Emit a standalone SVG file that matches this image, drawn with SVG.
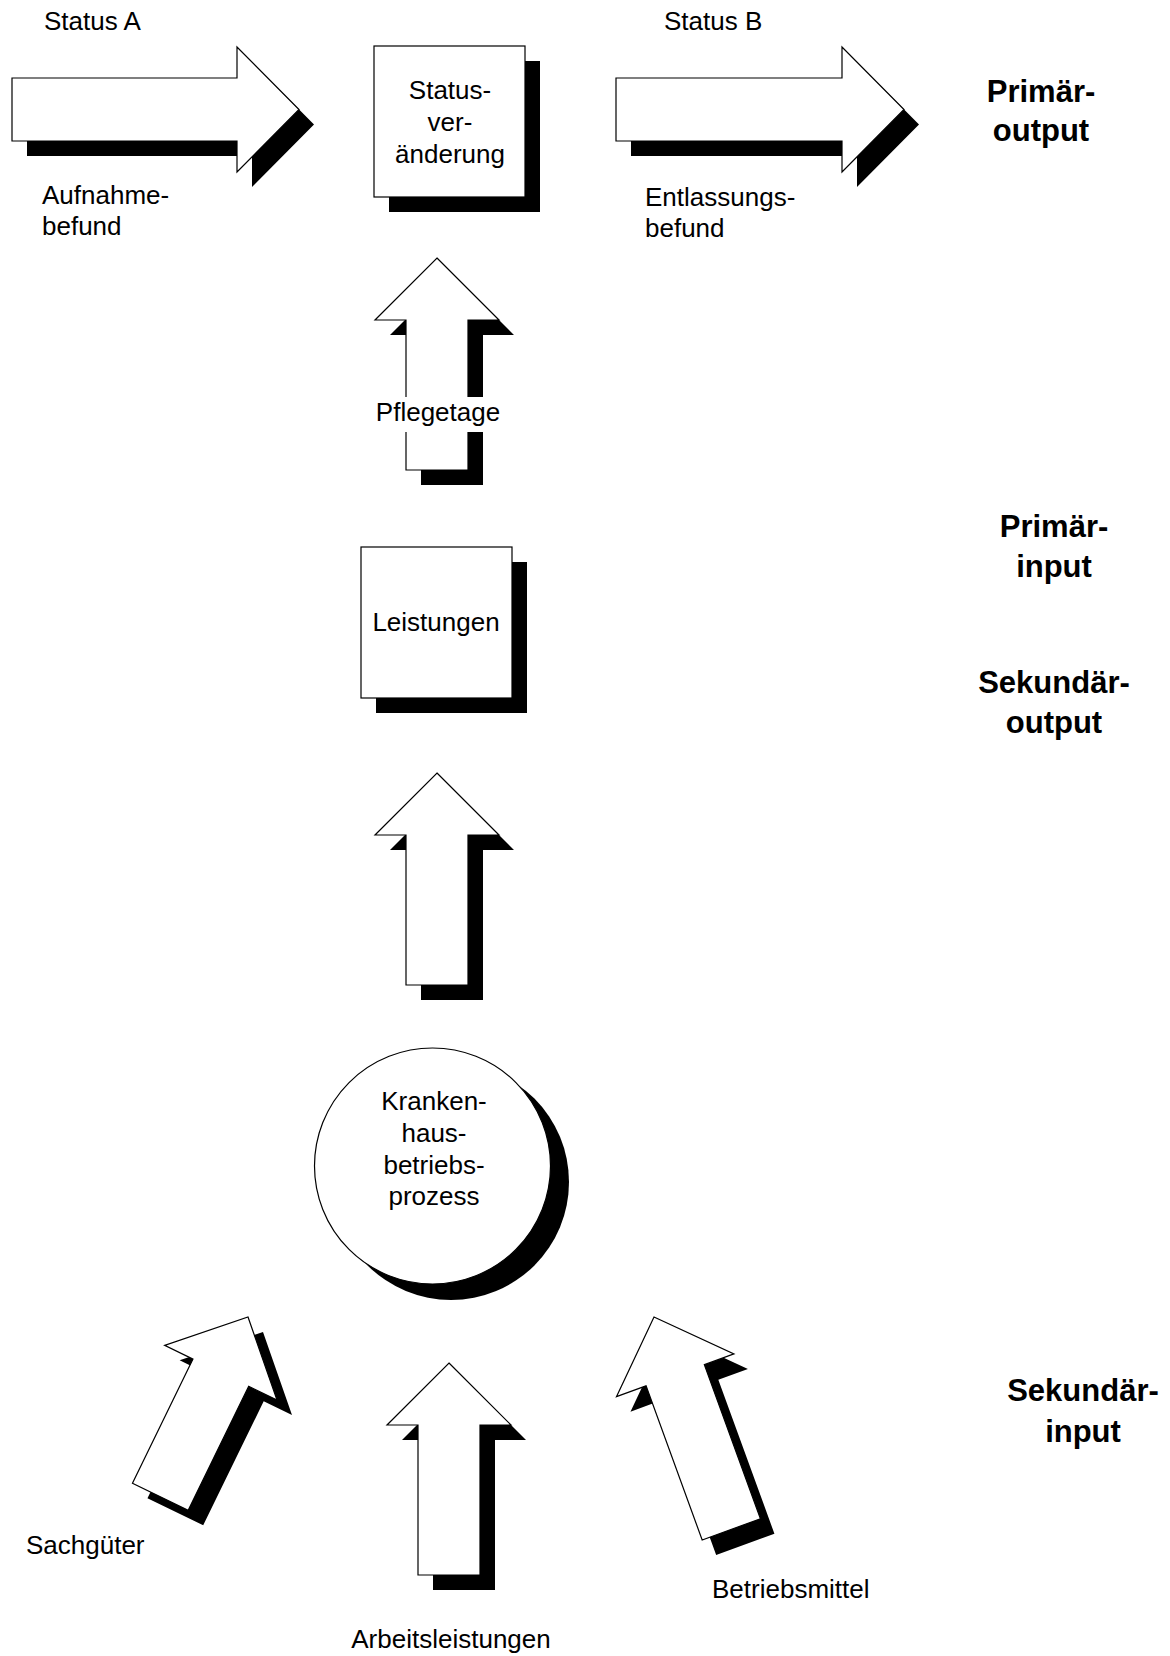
<svg xmlns="http://www.w3.org/2000/svg" xmlns:xlink="http://www.w3.org/1999/xlink" width="1170" height="1656" viewBox="0 0 1170 1656">
<style>
.face{fill:#fff;stroke:#000;stroke-width:1.2}
.shadow{fill:#000;stroke:none}
.lbl{font-family:"Liberation Sans",Arial,sans-serif;font-size:26px;fill:#000}
.mid{text-anchor:middle}
.side{font-family:"Liberation Sans",Arial,sans-serif;font-size:31px;font-weight:bold;fill:#000;text-anchor:middle}
</style>
<defs>
<path id="harrowL" d="M12,78 L237,78 L237,47 L299,109.5 L237,172 L237,141 L12,141 Z"/>
<path id="harrowR" d="M616,78 L842,78 L842,47 L904,109.5 L842,172 L842,141 L616,141 Z"/>
<path id="up211" d="M0,0 L62,62 L31,62 L31,212 L-31,212 L-31,62 L-62,62 Z"/>
<path id="up200" d="M0,0 L62.5,62 L31,62 L31,200 L-31,200 L-31,62 L-62.5,62 Z"/>
<path id="up226" d="M0,0 L62.5,62 L31,62 L31,226 L-31,226 L-31,62 L-62.5,62 Z"/>
</defs>
<rect width="1170" height="1656" fill="#fff"/>

<g id="connectors">
  <g id="arrow-status-a">
    <use xlink:href="#harrowL" class="shadow" transform="translate(15,15)"/>
    <use xlink:href="#harrowL" class="face"/>
  </g>
  <g id="arrow-status-b">
    <use xlink:href="#harrowR" class="shadow" transform="translate(15,15)"/>
    <use xlink:href="#harrowR" class="face"/>
  </g>
  <g id="arrow-pflegetage">
    <use xlink:href="#up211" class="shadow" transform="translate(452,273)"/>
    <use xlink:href="#up211" class="face" transform="translate(437,258)"/>
    <rect x="373" y="397" width="130" height="35" fill="#fff"/>
    <text class="lbl mid" x="438" y="421">Pflegetage</text>
  </g>
  <g id="arrow-leistungen">
    <use xlink:href="#up211" class="shadow" transform="translate(452,788)"/>
    <use xlink:href="#up211" class="face" transform="translate(437,773)"/>
  </g>
  <g id="arrow-sachgueter">
    <use xlink:href="#up200" class="shadow" transform="translate(263,1332) rotate(26)"/>
    <use xlink:href="#up200" class="face" transform="translate(248,1317) rotate(26)"/>
  </g>
  <g id="arrow-arbeitsleistungen">
    <use xlink:href="#up211" class="shadow" transform="translate(464,1378)"/>
    <use xlink:href="#up211" class="face" transform="translate(449,1363)"/>
  </g>
  <g id="arrow-betriebsmittel">
    <use xlink:href="#up226" class="shadow" transform="translate(668,1332) rotate(-20)"/>
    <use xlink:href="#up226" class="face" transform="translate(654,1317) rotate(-20)"/>
  </g>
</g>

<g id="node-statusveraenderung">
  <rect class="shadow" x="389" y="61" width="151" height="151"/>
  <rect class="face" x="374" y="46" width="151" height="151"/>
  <text class="lbl mid" x="450" y="99">Status-</text>
  <text class="lbl mid" x="450" y="130.5">ver-</text>
  <text class="lbl mid" x="450" y="162.5">änderung</text>
</g>

<g id="node-leistungen">
  <rect class="shadow" x="376" y="562" width="151" height="151"/>
  <rect class="face" x="361" y="547" width="151" height="151"/>
  <text class="lbl mid" x="436" y="631">Leistungen</text>
</g>

<g id="node-krankenhausbetriebsprozess">
  <circle class="shadow" cx="451" cy="1182" r="118"/>
  <circle class="face" cx="432.5" cy="1166" r="118"/>
  <text class="lbl mid" x="434" y="1110">Kranken-</text>
  <text class="lbl mid" x="434" y="1142">haus-</text>
  <text class="lbl mid" x="434" y="1173.5">betriebs-</text>
  <text class="lbl mid" x="434" y="1205">prozess</text>
</g>

<g id="labels">
  <text class="lbl" x="44" y="30">Status A</text>
  <text class="lbl" x="664" y="30">Status B</text>
  <text class="lbl" x="42" y="204">Aufnahme-</text>
  <text class="lbl" x="42" y="235">befund</text>
  <text class="lbl" x="645" y="206">Entlassungs-</text>
  <text class="lbl" x="645" y="237">befund</text>
  <text class="lbl" x="26" y="1554">Sachgüter</text>
  <text class="lbl mid" x="451" y="1648">Arbeitsleistungen</text>
  <text class="lbl" x="712" y="1598">Betriebsmittel</text>
</g>

<g id="level-labels">
  <text class="side" x="1041" y="102">Primär-</text>
  <text class="side" x="1041" y="141">output</text>
  <text class="side" x="1054" y="537">Primär-</text>
  <text class="side" x="1054" y="577">input</text>
  <text class="side" x="1054" y="693">Sekundär-</text>
  <text class="side" x="1054" y="733">output</text>
  <text class="side" x="1083" y="1401">Sekundär-</text>
  <text class="side" x="1083" y="1442">input</text>
</g>
</svg>
